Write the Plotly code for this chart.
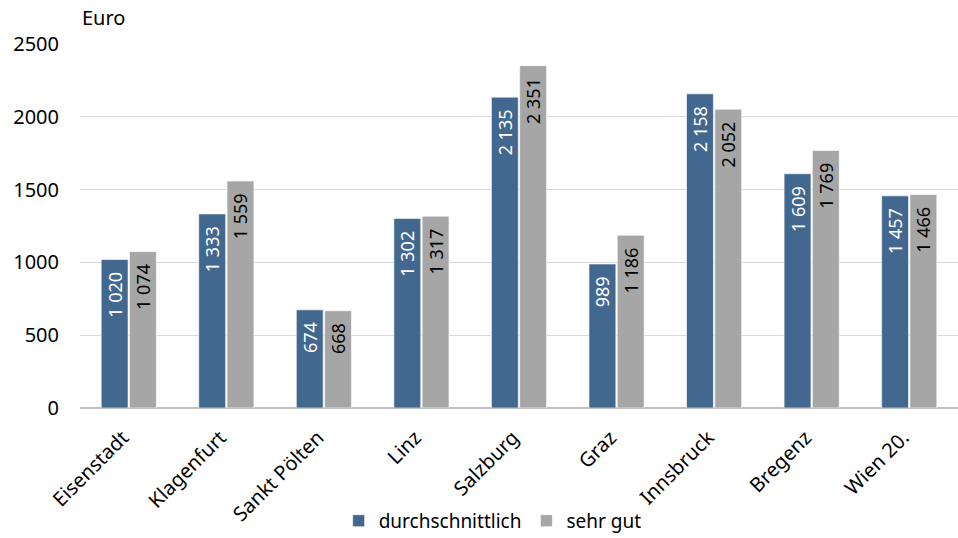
import plotly.graph_objects as go

cities = ["Eisenstadt", "Klagenfurt", "Sankt Pölten", "Linz", "Salzburg",
          "Graz", "Innsbruck", "Bregenz", "Wien 20."]
durchschnittlich = [1020, 1333, 674, 1302, 2135, 989, 2158, 1609, 1457]
sehr_gut = [1074, 1559, 668, 1317, 2351, 1186, 2052, 1769, 1466]
y_ticks = [0, 500, 1000, 1500, 2000, 2500]

FONT = "Noto Sans"
PAD = "\u00a0\u00a0"


def fmt(v):
    return f"{v:,}".replace(",", " ") + PAD


fig = go.Figure()
fig.add_trace(go.Bar(
    name="durchschnittlich", x=cities, y=durchschnittlich,
    text=[fmt(v) for v in durchschnittlich],
    textposition="inside", insidetextanchor="end", textangle=-90,
    textfont=dict(family=FONT, size=18, color="white"),
    marker=dict(color="#43688F", line=dict(color="rgba(255,255,255,0.6)", width=1)),
    hoverinfo="x+y",
))
fig.add_trace(go.Bar(
    name="sehr gut", x=cities, y=sehr_gut,
    text=[fmt(v) for v in sehr_gut],
    textposition="inside", insidetextanchor="end", textangle=-90,
    textfont=dict(family=FONT, size=18, color="black"),
    marker=dict(color="#A6A6A6", line=dict(color="rgba(255,255,255,0.6)", width=1)),
    hoverinfo="x+y",
))

fig.update_layout(
    width=958, height=538,
    margin=dict(l=80, r=0, t=44, b=130, autoexpand=False),
    plot_bgcolor="white", paper_bgcolor="white",
    barmode="group", bargap=0.42, bargroupgap=0.05,
    font=dict(family=FONT, size=20, color="black"),
    uniformtext=dict(minsize=18, mode="show"),
    legend=dict(orientation="h", x=0.47, xanchor="center", y=-0.31, yanchor="middle",
                font=dict(family=FONT, size=19), itemwidth=30,
                traceorder="normal"),
    annotations=[dict(text="Euro", x=0.0, y=1.074, xref="paper", yref="paper",
                      xanchor="left", yanchor="middle", showarrow=False,
                      font=dict(family=FONT, size=20))],
)
fig.update_xaxes(tickangle=-45, showline=False, ticks="", tickfont=dict(size=20),
                 ticklabelstandoff=13, ticklabelshift=-6, automargin=False)
fig.update_yaxes(range=[0, 2500], tickvals=y_ticks, ticktext=[str(t) for t in y_ticks],
                 showgrid=True, gridcolor="#D9D9D9", gridwidth=1,
                 zeroline=True, zerolinecolor="#BFBFBF", zerolinewidth=2,
                 ticks="", ticklabelstandoff=20, tickfont=dict(size=20), automargin=False)

fig.write_html("out.html", config={"displayModeBar": False},
               post_script="document.body.style.margin='0';document.body.style.overflow='hidden';")
